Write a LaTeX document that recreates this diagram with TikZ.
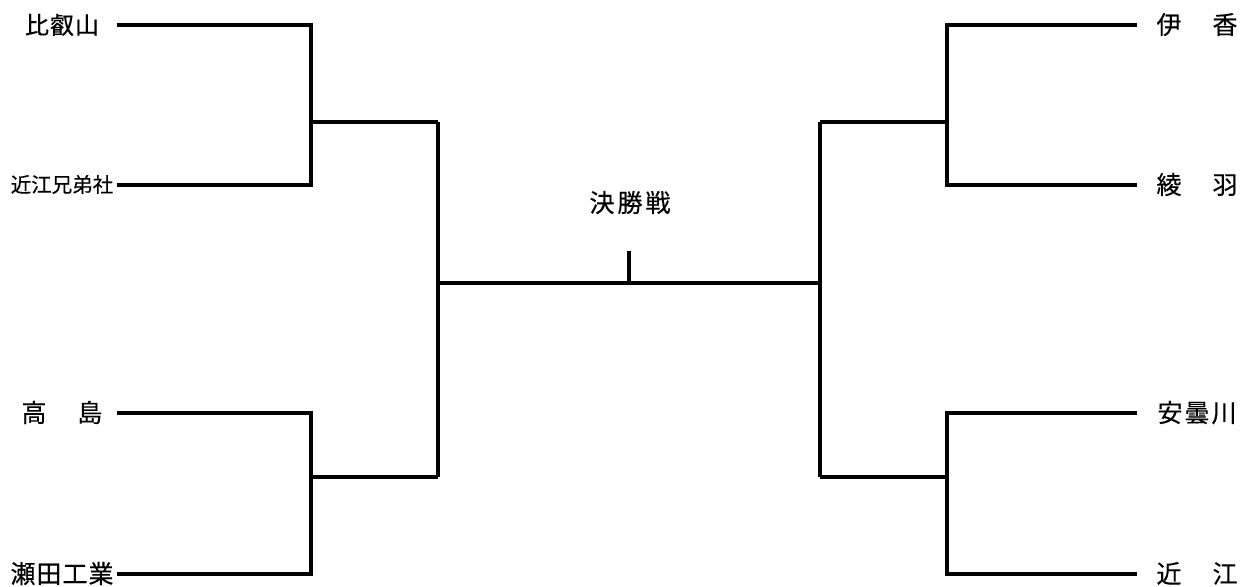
\documentclass[tikz,border=0pt]{standalone}
\usepackage{fontspec}
\newfontfamily\jpfont[FakeBold=0.3]{Noto Sans CJK JP}
\newcommand\gapk[1]{\kern#1bp}
\begin{document}
\begin{tikzpicture}[x=1bp,y=-1bp,line width=3.3bp,line join=miter,
  lbl/.style={font=\jpfont\fontsize{25bp}{25bp}\selectfont,inner sep=0pt,text height=21.5bp,text depth=3.5bp},
  small/.style={font=\jpfont\fontsize{20.5bp}{20.5bp}\selectfont,inner sep=0pt,text height=17.5bp,text depth=3bp}]
\useasboundingbox (0,0) rectangle (1245,587);
% labels
\node[lbl,font=\jpfont\fontsize{24bp}{24bp}\selectfont] (t1) at (62,25) {比\gapk{1}叡\gapk{1}山};
\node[small] (t2) at (62,185) {近江兄弟社};
\node[lbl] (t3) at (62,413) {高\gapk{3}　\gapk{3}島};
\node[lbl] (t4) at (62,574) {瀬\gapk{1}田\gapk{1}工\gapk{1}業};
\node[lbl] (t5) at (1197,25) {伊\gapk{3}　\gapk{3}香};
\node[lbl] (t6) at (1197,185) {綾\gapk{3}　\gapk{3}羽};
\node[lbl] (t7) at (1197,413) {安\gapk{2}曇\gapk{2}川};
\node[lbl] (t8) at (1197,574) {近\gapk{3}　\gapk{3}江};
\node[lbl] (fin) at (630,203) {決\gapk{3}勝\gapk{3}戦};
% bracket points
\coordinate (a1) at (117,25);  \coordinate (b1) at (311,25);
\coordinate (a2) at (117,185); \coordinate (b2) at (311,185);
\coordinate (a3) at (117,413); \coordinate (b3) at (311,413);
\coordinate (a4) at (117,574); \coordinate (b4) at (311,574);
\coordinate (m1) at (311,122); \coordinate (n1) at (438,122);
\coordinate (m2) at (311,477); \coordinate (n2) at (438,477);
\coordinate (c1) at (438,283); \coordinate (c2) at (820,283);
\coordinate (k1) at (629,251); \coordinate (k2) at (629,283);
\coordinate (m3) at (947,122); \coordinate (n3) at (820,122);
\coordinate (m4) at (947,477); \coordinate (n4) at (820,477);
\coordinate (d1) at (1137,25);  \coordinate (e1) at (947,25);
\coordinate (d2) at (1137,185); \coordinate (e2) at (947,185);
\coordinate (d3) at (1137,413); \coordinate (e3) at (947,413);
\coordinate (d4) at (1137,574); \coordinate (e4) at (947,574);
% lines
\draw (a1) -- (b1) -- (b2) -- (a2);
\draw (a3) -- (b3) -- (b4) -- (a4);
\draw (m1) -- (n1);
\draw (m2) -- (n2);
\draw (n1) -- (n2);
\draw (c1) -- (c2);
\draw (k1) -- (k2);
\draw (n3) -- (n4);
\draw (n3) -- (m3);
\draw (n4) -- (m4);
\draw (d1) -- (e1) -- (e2) -- (d2);
\draw (d3) -- (e3) -- (e4) -- (d4);
\end{tikzpicture}
\end{document}
